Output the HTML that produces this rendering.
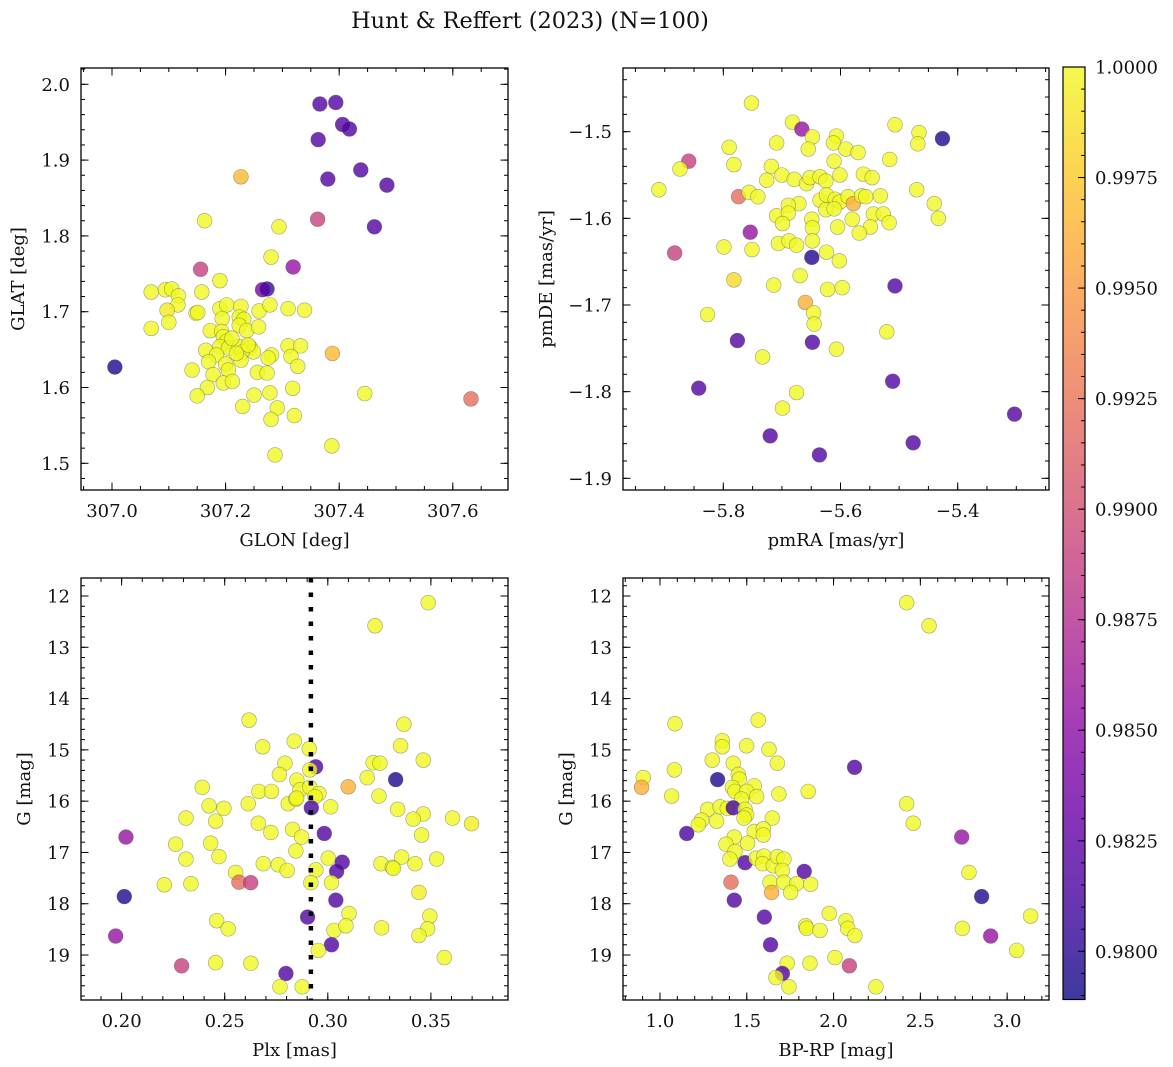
<!DOCTYPE html>
<html><head><meta charset="utf-8"><title>Hunt & Reffert (2023)</title>
<style>
html,body{margin:0;padding:0;background:#fff;}
svg{display:block;font-family:"DejaVu Serif","Liberation Serif",serif;}
</style></head>
<body>
<svg id="fig" width="1173" height="1067" viewBox="0 0 1173 1067" xmlns="http://www.w3.org/2000/svg">
<defs>
<linearGradient id="plasmaGrad" x1="0" y1="1" x2="0" y2="0"></linearGradient>
</defs>
<text x="530" y="28" text-anchor="middle" font-size="22.4" fill="#111">Hunt &amp; Reffert (2023) (N=100)</text>
</svg>
<script>
// ---- Panel 1 data: GLON / GLAT ----
const p1Glon = [307.366,307.394,307.406,307.418,307.363,307.227,307.438,307.380,307.484,307.362,
307.462,307.163,307.294,307.280,307.156,307.319,307.190,307.265,307.273,307.069,
307.094,307.105,307.117,307.158,307.116,307.097,307.148,307.151,307.100,307.069,
307.190,307.202,307.227,307.259,307.278,307.310,307.339,307.194,307.224,307.232,
307.224,307.237,307.258,307.173,307.193,307.196,307.202,307.190,307.205,307.224,
307.243,307.249,307.229,307.165,307.184,307.281,307.275,307.310,307.332,307.315,
307.327,307.388,307.005,307.170,307.200,307.227,307.141,307.178,307.205,307.256,
307.273,307.196,307.212,307.168,307.150,307.250,307.278,307.318,307.445,307.632,
307.230,307.291,307.280,307.321,307.387,307.287,307.211,307.219,307.240];
const p1Glat = [1.974,1.976,1.947,1.941,1.927,1.878,1.887,1.875,1.867,1.822,
1.812,1.820,1.812,1.772,1.756,1.759,1.741,1.729,1.730,1.726,
1.729,1.730,1.721,1.726,1.709,1.702,1.698,1.699,1.686,1.678,
1.704,1.709,1.707,1.701,1.709,1.704,1.702,1.691,1.693,1.690,
1.682,1.675,1.680,1.675,1.674,1.667,1.661,1.654,1.652,1.654,
1.653,1.647,1.647,1.649,1.643,1.643,1.639,1.655,1.655,1.641,
1.628,1.645,1.627,1.634,1.631,1.636,1.623,1.617,1.623,1.620,
1.619,1.606,1.608,1.600,1.589,1.590,1.593,1.599,1.592,1.585,
1.575,1.573,1.558,1.563,1.523,1.511,1.665,1.645,1.656];
const p1Prob = [0.9818,0.9818,0.9818,0.9818,0.9818,0.9968,0.9818,0.9818,0.9818,0.9890,
0.9818,1,1,1,0.9889,0.9855,1,0.9840,0.9812,1,
1,1,1,1,1,0.9993,1,1,1,1,
1,1,1,1,1,1,1,1,1,1,
1,1,1,1,1,1,1,1,1,1,
1,1,1,1,1,1,1,1,1,1,
1,0.9968,0.9795,1,1,1,1,1,1,1,
1,1,1,1,1,1,1,1,1,0.9921,
1,1,1,1,1,1,1,1,1];

// ---- Panel 2 data: pmRA / pmDE ----
const p2Pmra = [-5.752,-5.682,-5.666,-5.648,-5.607,-5.612,-5.709,-5.655,-5.591,-5.570,
-5.507,-5.466,-5.468,-5.426,-5.790,-5.859,-5.874,-5.782,-5.718,-5.700,
-5.726,-5.679,-5.658,-5.652,-5.635,-5.625,-5.611,-5.601,-5.561,-5.546,
-5.516,-5.910,-5.774,-5.756,-5.741,-5.671,-5.689,-5.635,-5.624,-5.609,
-5.601,-5.587,-5.578,-5.564,-5.557,-5.532,-5.470,-5.440,-5.433,-5.709,
-5.689,-5.699,-5.649,-5.625,-5.611,-5.580,-5.544,-5.527,-5.517,-5.549,
-5.568,-5.648,-5.605,-5.754,-5.799,-5.751,-5.706,-5.688,-5.675,-5.648,
-5.883,-5.649,-5.624,-5.602,-5.782,-5.714,-5.669,-5.622,-5.597,-5.507,
-5.660,-5.646,-5.645,-5.827,-5.776,-5.648,-5.733,-5.607,-5.521,-5.842,
-5.675,-5.699,-5.511,-5.303,-5.720,-5.476,-5.636];
const p2Pmde = [-1.467,-1.489,-1.497,-1.506,-1.505,-1.513,-1.513,-1.520,-1.520,-1.524,
-1.492,-1.501,-1.514,-1.508,-1.518,-1.534,-1.543,-1.538,-1.540,-1.550,
-1.556,-1.555,-1.560,-1.553,-1.552,-1.557,-1.534,-1.550,-1.549,-1.553,
-1.532,-1.567,-1.575,-1.570,-1.575,-1.583,-1.585,-1.579,-1.573,-1.578,
-1.581,-1.575,-1.583,-1.574,-1.575,-1.574,-1.567,-1.583,-1.600,-1.597,
-1.594,-1.606,-1.601,-1.590,-1.589,-1.601,-1.595,-1.595,-1.605,-1.610,
-1.617,-1.611,-1.610,-1.616,-1.633,-1.636,-1.629,-1.626,-1.631,-1.626,
-1.640,-1.645,-1.639,-1.649,-1.671,-1.677,-1.666,-1.682,-1.680,-1.678,
-1.697,-1.709,-1.722,-1.711,-1.741,-1.743,-1.760,-1.751,-1.731,-1.796,
-1.801,-1.819,-1.788,-1.826,-1.851,-1.859,-1.873];
const p2Prob = [1,1,0.9855,1,1,1,1,1,1,1,
1,1,1,0.9795,1,0.9889,1,1,1,1,
1,1,1,1,1,1,1,1,1,1,
1,1,0.9921,1,1,1,1,1,1,1,
1,1,0.9962,1,1,1,1,1,1,1,
1,1,1,1,1,1,1,1,1,1,
1,1,1,0.9855,1,1,1,1,1,1,
0.9889,0.9797,1,1,0.9985,1,1,1,1,0.9818,
0.9962,1,1,1,0.9818,0.9818,1,1,1,0.9818,
1,1,0.9818,0.9818,0.9818,0.9818,0.9818];

// ---- Panel 3 data: Plx / G ----
const p3Plx = [0.3487,0.3229,0.2618,0.3369,0.2684,0.2837,0.2910,0.3353,0.3463,0.2792,
0.2765,0.2941,0.2913,0.3220,0.3253,0.2850,0.3191,0.3329,0.3099,0.2391,
0.2666,0.2727,0.2865,0.2913,0.2957,0.2938,0.2614,0.2808,0.2845,0.3014,
0.3248,0.2424,0.2496,0.2920,0.3339,0.3463,0.2312,0.2456,0.2663,0.3414,
0.3605,0.3697,0.2021,0.2724,0.2829,0.2873,0.2983,0.3455,0.2262,0.2432,
0.2312,0.2472,0.2845,0.3002,0.3070,0.2687,0.2760,0.2803,0.2942,0.3043,
0.3258,0.3313,0.3358,0.3423,0.3528,0.2553,0.2207,0.2336,0.2569,0.2626,
0.2918,0.3018,0.3442,0.2013,0.3039,0.2902,0.3103,0.3495,0.2461,0.2517,
0.3030,0.3088,0.3261,0.3484,0.3442,0.1971,0.3018,0.2954,0.3565,0.2291,
0.2456,0.2627,0.2797,0.2768,0.2876,0.3318,0.2849];
const p3G = [12.13,12.58,14.42,14.50,14.94,14.83,14.98,14.92,15.20,15.26,
15.48,15.33,15.39,15.25,15.26,15.59,15.54,15.58,15.72,15.73,
15.81,15.81,15.78,15.73,15.85,15.91,16.05,16.05,15.96,16.11,
15.90,16.09,16.14,16.13,16.16,16.25,16.33,16.39,16.43,16.35,
16.33,16.44,16.70,16.61,16.55,16.70,16.63,16.66,16.84,16.82,
17.13,17.08,16.97,17.11,17.19,17.22,17.24,17.35,17.34,17.37,
17.22,17.29,17.09,17.22,17.13,17.39,17.63,17.61,17.58,17.59,
17.59,17.59,17.78,17.86,17.93,18.26,18.19,18.24,18.33,18.49,
18.52,18.43,18.47,18.49,18.62,18.63,18.80,18.91,19.05,19.21,
19.15,19.16,19.36,19.62,19.62,17.31,15.94];
const p3Prob = [1,1,1,1,1,1,1,1,1,1,
1,0.9818,1,1,1,1,1,0.9795,0.9963,1,
1,1,1,1,1,1,1,1,1,1,
1,1,1,0.9812,1,1,1,1,1,1,
1,0.9995,0.9855,1,1,1,0.9818,1,1,1,
1,1,1,1,0.9818,1,1,1,1,0.9818,
1,1,1,1,1,1,1,1,0.9921,0.9889,
1,1,0.9994,0.9796,0.9818,0.9818,1,1,1,1,
1,1,1,1,1,0.9855,0.9818,1,1,0.9889,
1,1,0.9818,1,1,1,1];
const plxRef = [0.2918];

// ---- Panel 4 data: BP-RP / G ----
const p4Bprp = [2.421,2.550,1.086,1.566,1.359,1.359,1.499,1.628,1.301,1.422,
1.676,2.121,0.904,1.083,1.332,1.451,1.457,0.894,1.417,1.543,
1.432,1.499,1.557,1.685,1.854,1.067,1.470,1.275,1.346,1.388,
1.422,1.490,1.499,1.484,1.647,1.240,1.221,1.326,2.421,2.459,
1.154,1.543,1.595,1.595,1.428,1.505,1.380,1.432,1.403,1.490,
1.553,1.599,1.591,1.653,1.676,1.714,1.705,1.831,2.738,2.780,
1.409,1.634,1.714,1.787,1.868,1.753,1.643,1.428,2.853,1.601,
1.975,1.839,1.845,1.922,2.071,2.081,2.123,2.742,2.905,3.135,
3.055,1.637,1.733,1.864,2.008,2.091,1.705,1.668,1.743,2.244];
const p4G = [12.13,12.58,14.49,14.42,14.82,14.94,14.92,14.99,15.20,15.26,
15.26,15.34,15.54,15.39,15.58,15.48,15.57,15.73,15.73,15.70,
15.81,15.81,15.91,15.86,15.81,15.90,15.96,16.16,16.11,16.14,
16.13,16.16,16.27,16.33,16.33,16.37,16.46,16.39,16.05,16.43,
16.63,16.59,16.54,16.66,16.70,16.82,16.84,16.98,17.13,17.20,
17.11,17.07,17.22,17.26,17.08,17.13,17.35,17.37,16.70,17.39,
17.58,17.58,17.58,17.61,17.62,17.78,17.78,17.93,17.86,18.26,
18.19,18.43,18.48,18.52,18.33,18.48,18.62,18.48,18.63,18.24,
18.91,18.80,19.16,19.16,19.05,19.21,19.36,19.44,19.62,19.62];
const p4Prob = [1,1,1,1,1,1,1,1,1,1,
1,0.9818,1,1,0.9795,1,1,0.9962,1,1,
1,1,1,1,1,1,1,1,1,1,
0.9812,1,1,1,1,1,1,1,1,1,
0.9815,1,1,1,1,1,1,1,1,0.9818,
1,1,1,1,1,1,1,0.9818,0.9855,1,
0.9921,1,1,1,1,1,0.9962,0.9818,0.9796,0.9818,
1,1,1,1,1,1,1,1,0.9855,1,
1,0.9818,1,1,1,0.9889,0.9818,1,1,1];

// ---- colour scale ----
const cbarTicks = [0.9800,0.9825,0.9850,0.9875,0.9900,0.9925,0.9950,0.9975,1.0000];
const vMin = 0.97891, vMax = 1.0;
const plasma = ["#0d0887","#41049d","#6a00a8","#8f0da4","#b12a90","#cc4778","#e16462","#f2844b","#fca636","#fcce25","#f0f921"];
function hex2rgb(h){return [parseInt(h.substr(1,2),16),parseInt(h.substr(3,2),16),parseInt(h.substr(5,2),16)];}
function cmap(t){
  t=Math.max(0,Math.min(1,t));
  const f=t*10, i=Math.min(9,Math.floor(f)), u=f-i;
  const a=hex2rgb(plasma[i]), b=hex2rgb(plasma[i+1]);
  return "rgb("+a.map((v,k)=>Math.round(v+(b[k]-v)*u)).join(",")+")";
}
function colorOf(p){return cmap((p-vMin)/(vMax-vMin));}

const NS="http://www.w3.org/2000/svg";
const svg=document.getElementById("fig");
function mk(tag,attrs,parent){const e=document.createElementNS(NS,tag);for(const k in attrs)e.setAttribute(k,attrs[k]);(parent||svg).appendChild(e);return e;}
function fmt(v,d){const s=Math.abs(v).toFixed(d);return (v<-1e-9?"\u2212":"")+s;}
function range(a,b,s){const r=[];const n=Math.round((b-a)/s);for(let i=0;i<=n;i++)r.push(+(a+i*s).toFixed(6));return r;}

function panel(cfg){
  const g=mk("g",{});
  
  
  const sx=v=>cfg.x0+(v-cfg.xd[0])/(cfg.xd[1]-cfg.xd[0])*(cfg.x1-cfg.x0);
  const sy=cfg.yInv ? (v=>cfg.y0+(v-cfg.yd[0])/(cfg.yd[1]-cfg.yd[0])*(cfg.y1-cfg.y0))
                    : (v=>cfg.y1-(v-cfg.yd[0])/(cfg.yd[1]-cfg.yd[0])*(cfg.y1-cfg.y0));
  const pts=mk("g",{},g);
  
  
  for(let i=0;i<cfg.xs.length;i++){
    const c=mk("circle",{cx:sx(cfg.xs[i]).toFixed(2),cy:sy(cfg.ys[i]).toFixed(2),r:7.4,fill:colorOf(cfg.ps[i]),"fill-opacity":0.8,stroke:"#555","stroke-opacity":0.55,"stroke-width":0.6},pts);
    
    
  }
  if(cfg.extra) cfg.extra(g,sx,sy);
  const tk=mk("g",{stroke:"#000","stroke-width":1},g);
  
  
  const inX=v=>v>=cfg.xd[0]-1e-9&&v<=cfg.xd[1]+1e-9, inY=v=>v>=Math.min(...cfg.yd)-1e-9&&v<=Math.max(...cfg.yd)+1e-9;
  cfg.xMinor.filter(inX).forEach(v=>{const x=sx(v);mk("line",{x1:x,x2:x,y1:cfg.y1,y2:cfg.y1-4},tk);mk("line",{x1:x,x2:x,y1:cfg.y0,y2:cfg.y0+4},tk);});
  cfg.yMinor.filter(inY).forEach(v=>{const y=sy(v);mk("line",{x1:cfg.x0,x2:cfg.x0+4,y1:y,y2:y},tk);mk("line",{x1:cfg.x1,x2:cfg.x1-4,y1:y,y2:y},tk);});
  cfg.xMajor.forEach(v=>{const x=sx(v);mk("line",{x1:x,x2:x,y1:cfg.y1,y2:cfg.y1-7.5},tk);mk("line",{x1:x,x2:x,y1:cfg.y0,y2:cfg.y0+7.5},tk);
    const t=mk("text",{x:x,y:cfg.y1+27,"text-anchor":"middle","font-size":18,fill:"#111",stroke:"none"},g);t.textContent=fmt(v,cfg.xDec);
    
    });
  cfg.yMajor.forEach(v=>{const y=sy(v);mk("line",{x1:cfg.x0,x2:cfg.x0+7.5,y1:y,y2:y},tk);mk("line",{x1:cfg.x1,x2:cfg.x1-7.5,y1:y,y2:y},tk);
    const t=mk("text",{x:cfg.x0-11,y:y+6.5,"text-anchor":"end","font-size":18,fill:"#111",stroke:"none"},g);t.textContent=fmt(v,cfg.yDec);
    
    });
  const fr=mk("rect",{x:cfg.x0,y:cfg.y0,width:cfg.x1-cfg.x0,height:cfg.y1-cfg.y0,fill:"none",stroke:"#000","stroke-width":1.3},g);
  
  
  const xl=mk("text",{x:(cfg.x0+cfg.x1)/2,y:cfg.y1+56,"text-anchor":"middle","font-size":18,fill:"#111"},g);xl.textContent=cfg.xLabel;
  
  
  const yx=cfg.yLabelX, yc=(cfg.y0+cfg.y1)/2;
  const yl=mk("text",{x:yx,y:yc,"text-anchor":"middle","font-size":18,fill:"#111",transform:"rotate(-90 "+yx+" "+yc+")"},g);yl.textContent=cfg.yLabel;
  
  
}

panel({name:"glon-glat-panel",x0:81,x1:508,y0:68,y1:490,xd:[306.9454,307.6972],yd:[1.4648,2.0215],
  xs:p1Glon,ys:p1Glat,ps:p1Prob,xMajor:[307.0,307.2,307.4,307.6],xMinor:range(306.95,307.7,0.05),
  yMajor:[1.5,1.6,1.7,1.8,1.9,2.0],yMinor:range(1.46,2.02,0.02),xDec:1,yDec:1,
  xLabel:"GLON [deg]",yLabel:"GLAT [deg]",yLabelX:24});
panel({name:"pmra-pmde-panel",x0:623,x1:1049,y0:68,y1:490,xd:[-5.9712,-5.2442],yd:[-1.9135,-1.4265],
  xs:p2Pmra,ys:p2Pmde,ps:p2Prob,xMajor:[-5.8,-5.6,-5.4],xMinor:range(-5.95,-5.25,0.05),
  yMajor:[-1.9,-1.8,-1.7,-1.6,-1.5],yMinor:range(-1.9,-1.44,0.02),xDec:1,yDec:1,
  xLabel:"pmRA [mas/yr]",yLabel:"pmDE [mas/yr]",yLabelX:552});
panel({name:"plx-g-panel",x0:81,x1:508,y0:578,y1:1000,xd:[0.1803,0.3874],yd:[11.649,19.877],yInv:true,
  xs:p3Plx,ys:p3G,ps:p3Prob,xMajor:[0.20,0.25,0.30,0.35],xMinor:range(0.18,0.38,0.01),
  yMajor:[12,13,14,15,16,17,18,19],yMinor:range(11.8,19.8,0.2),xDec:2,yDec:0,
  xLabel:"Plx [mas]",yLabel:"G [mag]",yLabelX:30,
  extra:(g,sx,sy)=>{const x=sx(plxRef[0]);const l=mk("line",{x1:x,x2:x,y1:578,y2:1000,stroke:"#000","stroke-width":4.5,"stroke-dasharray":"4.5,10"},g);
    
    }});
panel({name:"colour-magnitude-panel",x0:623,x1:1049,y0:578,y1:1000,xd:[0.787,3.241],yd:[11.649,19.877],yInv:true,
  xs:p4Bprp,ys:p4G,ps:p4Prob,xMajor:[1.0,1.5,2.0,2.5,3.0],xMinor:range(0.8,3.2,0.1),
  yMajor:[12,13,14,15,16,17,18,19],yMinor:range(11.8,19.8,0.2),xDec:1,yDec:0,
  xLabel:"BP-RP [mag]",yLabel:"G [mag]",yLabelX:572});

(function(){
  const grad=document.getElementById("plasmaGrad");
  plasma.forEach((c,i)=>mk("stop",{offset:(i/10).toFixed(2),"stop-color":c},grad));
  const cx0=1063,cx1=1085,cy0=67,cy1=999.5;
  const g=mk("g",{});
  
  
  mk("rect",{x:cx0,y:cy0,width:cx1-cx0,height:cy1-cy0,fill:"url(#plasmaGrad)","fill-opacity":0.8},g);
  const sy=v=>cy1-(v-vMin)/(vMax-vMin)*(cy1-cy0);
  range(0.9790,1.0,0.0005).forEach(v=>{if(v<vMin)return;const y=sy(v);mk("line",{x1:cx1,x2:cx1-4,y1:y,y2:y,stroke:"#000","stroke-width":1},g);});
  cbarTicks.forEach(v=>{const y=sy(v);mk("line",{x1:cx1,x2:cx1-7,y1:y,y2:y,stroke:"#000","stroke-width":1},g);
    const t=mk("text",{x:1095,y:y+6.5,"font-size":18,fill:"#111"},g);t.textContent=v.toFixed(4);
    
    });
  mk("rect",{x:cx0,y:cy0,width:cx1-cx0,height:cy1-cy0,fill:"none",stroke:"#000","stroke-width":1.2},g);
})();
</script>
</body></html>
